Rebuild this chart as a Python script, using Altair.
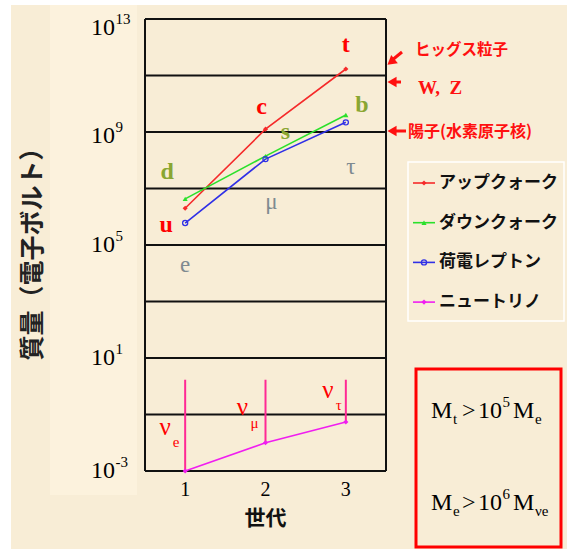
import altair as alt
import pandas as pd

# Masses (eV) of the three generations of fermions
generations = [1, 2, 3]
up_mass = [2.0e6, 1.26e9, 1.7e11]
down_mass = [4.3e6, 1.4e8, 4.0e9]
lepton_mass = [6.0e5, 1.1e8, 2.2e9]
neutrino_mass = [1.0e-3, 1.0e-2, 5.4e-2]
neutrino_upper = [1.7, 1.7, 1.7]

up_labels = ["u", "c", "t"]
down_labels = ["d", "s", "b"]
lepton_labels = ["e", "μ", "τ"]
neutrino_subscripts = ["e", "μ", "τ"]

series_names = ["アップクォーク", "ダウンクォーク", "荷電レプトン", "ニュートリノ"]
series_colors = ["#F52A2A", "#2BE02B", "#3030E6", "#F01EF0"]
series_shapes = ["diamond", "triangle-up", "circle", "diamond"]
series_filled = [True, True, False, True]

grid_masses = [1e-3, 1e-1, 1e1, 1e3, 1e5, 1e7, 1e9, 1e11, 1e13]
tick_masses = [1e-3, 1e1, 1e5, 1e9, 1e13]
tick_exponents = ["-3", "1", "5", "9", "13"]

reference_labels = ["ヒッグス粒子", "W,\u00a0\u00a0Z", "陽子(水素原子核)"]

W, H = 241, 452
SERIF = "Liberation Serif"
CJK = "Noto Sans CJK JP"
BG = "#F8EDD6"
STRIP = "#FCF2DD"
RED = "#FF1010"

xs = alt.Scale(domain=[0.5, 3.5], nice=False, zero=False)
ys = alt.Scale(type="log", domain=[1e-3, 1e13], nice=False)

all_mass = [up_mass, down_mass, lepton_mass, neutrino_mass]
rows = []
for name, masses in zip(series_names, all_mass):
    for g, m in zip(generations, masses):
        rows.append({"series": name, "gen": g, "mass": m})
df = pd.DataFrame(rows)

one = pd.DataFrame({"k": [0]})


def X(field="gen:Q"):
    return alt.X(field, scale=xs, axis=None)


def Y(field="mass:Q"):
    return alt.Y(field, scale=ys, axis=None)


def px_rect(x, x2, y, y2, **kw):
    return alt.Chart(one).mark_rect(**kw).encode(
        x=alt.value(x), x2=alt.value(x2), y=alt.value(y), y2=alt.value(y2))


def px_rule(x, y, x2, y2, **kw):
    return alt.Chart(one).mark_rule(**kw).encode(
        x=alt.value(x), x2=alt.value(x2), y=alt.value(y), y2=alt.value(y2))


def px_text(text, x, y, **kw):
    return alt.Chart(one).mark_text(text=text, **kw).encode(
        x=alt.value(x), y=alt.value(y))


def px_point(x, y, **kw):
    return alt.Chart(one).mark_point(**kw).encode(x=alt.value(x), y=alt.value(y))


layers = []

# page edges and the lighter band behind the y labels
layers.append(px_rect(-145, -134, -19, H + 78, color="white"))
layers.append(px_rect(422, 428, -19, H + 78, color="white"))
layers.append(px_rect(-145, 428, -19, -14, color="white"))
layers.append(px_rect(-95, -8, -14, 476, color=STRIP))

# horizontal grid every two decades and the side borders
grid_df = pd.DataFrame({"mass": grid_masses})
layers.append(alt.Chart(grid_df).mark_rule(color="#111111", strokeWidth=2).encode(
    y=Y(), x=alt.value(0), x2=alt.value(W)))
border_df = pd.DataFrame({"gen": [0.5, 3.5]})
layers.append(alt.Chart(border_df).mark_rule(color="#111111", strokeWidth=2).encode(
    x=X(), y=alt.value(0), y2=alt.value(H)))

# neutrino upper limits
nu_df = pd.DataFrame({"gen": generations, "mass": neutrino_mass, "upper": neutrino_upper})
layers.append(alt.Chart(nu_df).mark_rule(color="#FF2A95", strokeWidth=2).encode(
    x=X(), y=Y(), y2="upper:Q"))

# connecting lines
layers.append(alt.Chart(df).mark_line(strokeWidth=1.6).encode(
    x=X(), y=Y(),
    color=alt.Color("series:N", scale=alt.Scale(domain=series_names, range=series_colors),
                    legend=None),
))

# markers
for name, col, shp, fil in zip(series_names, series_colors, series_shapes, series_filled):
    layers.append(alt.Chart(df[df.series == name]).mark_point(
        shape=shp, filled=fil, color=col, size=26, strokeWidth=1.3, opacity=1).encode(
        x=X(), y=Y()))

# generation tick labels and axis title
gen_df = pd.DataFrame({"gen": generations, "lab": [str(g) for g in generations]})
layers.append(alt.Chart(gen_df).mark_text(baseline="middle", font=SERIF, fontSize=20,
                                          color="black")
              .encode(x=X(), y=alt.value(H + 19), text="lab:N"))
layers.append(px_text("世代", W / 2, H + 48, baseline="middle", font=CJK, fontSize=21,
                      fontWeight="bold", color="#111111"))

# particle names next to the points
label_offsets = {
    "u": (-19, 17), "c": (-4, -22), "t": (0, -24),
    "d": (-18, -27), "s": (20, -24), "b": (16, -10),
    "e": (0, 42), "μ": (6, 43), "τ": (5, 45),
}
groups = [
    (up_labels, up_mass, "#FF0000", "bold", 24),
    (down_labels, down_mass, "#8AA632", "bold", 24),
    (lepton_labels, lepton_mass, "#7F8A90", "normal", 23),
]
for labels, masses, col, wt, fs in groups:
    for lab, g, m in zip(labels, generations, masses):
        dx, dy = label_offsets[lab]
        layers.append(alt.Chart(pd.DataFrame({"gen": [g], "mass": [m], "lab": [lab]}))
                      .mark_text(dx=dx, dy=dy, font=SERIF, fontSize=fs, fontWeight=wt, color=col)
                      .encode(x=X(), y=Y(), text="lab:N"))

nu_offsets = [((-20, -44), (-9, -29)), ((-23, -36), (-11, -20)), ((-18, -32), (-7, -17))]
for g, m, sub, (o1, o2) in zip(generations, neutrino_mass, neutrino_subscripts, nu_offsets):
    d = pd.DataFrame({"gen": [g], "mass": [m], "nu": ["ν"], "sub": [sub]})
    layers.append(alt.Chart(d).mark_text(dx=o1[0], dy=o1[1], font=SERIF, fontSize=25,
                                         color="#FF0000").encode(x=X(), y=Y(), text="nu:N"))
    layers.append(alt.Chart(d).mark_text(dx=o2[0], dy=o2[1], font=SERIF, fontSize=15,
                                         color="#FF0000").encode(x=X(), y=Y(), text="sub:N"))

# y tick labels 10^n
tick_shift = [0, 0, 0, 4, 9]
for m, e, sh in zip(tick_masses, tick_exponents, tick_shift):
    d = pd.DataFrame({"mass": [m], "exp": [e], "ten": ["10"]})
    layers.append(alt.Chart(d).mark_text(align="right", baseline="middle", dy=sh, font=SERIF,
                                         fontSize=24, color="black")
                  .encode(y=Y(), x=alt.value(-30), text="ten:N"))
    layers.append(alt.Chart(d).mark_text(align="left", baseline="middle", dy=sh - 9,
                                         font=SERIF, fontSize=15, color="black")
                  .encode(y=Y(), x=alt.value(-29.5), text="exp:N"))

# y title
layers.append(px_text("質量（電子ボルト）", -112, 229, angle=270, font=CJK, fontSize=25,
                      fontWeight="bold", color="#222222", baseline="middle"))

# reference masses on the right
layers.append(px_text(reference_labels[0], 270, 31, align="left", baseline="middle",
                      font=CJK, fontSize=15.5, fontWeight="bold", color=RED))
layers.append(px_text(reference_labels[1], 273, 69, align="left", baseline="middle",
                      font=SERIF, fontSize=19, fontWeight="bold", color=RED))
layers.append(px_text(reference_labels[2], 263, 113, align="left", baseline="middle",
                      font=CJK, fontSize=16, fontWeight="bold", color=RED))
layers.append(px_rule(257, 33, 246, 42, color=RED, strokeWidth=3))
layers.append(px_point(246, 43, shape="triangle-left", angle=321, filled=True,
                       color=RED, size=110, opacity=1))
layers.append(px_rule(256, 63, 247, 63, color=RED, strokeWidth=3))
layers.append(px_point(247, 63, shape="triangle-left", filled=True, color=RED, size=110,
                       opacity=1))
layers.append(px_rule(261, 112, 247, 112, color=RED, strokeWidth=3))
layers.append(px_point(247, 112, shape="triangle-left", filled=True, color=RED, size=110,
                       opacity=1))

# legend
layers.append(px_rect(263, 419, 143, 302, fillOpacity=0, stroke="white", strokeWidth=1.5))
for i, (name, col, shp, fil) in enumerate(zip(series_names, series_colors, series_shapes,
                                               series_filled)):
    yy = 164 + i * 39.7
    layers.append(px_rule(268, yy, 290, yy, color=col, strokeWidth=1.6))
    layers.append(px_point(279, yy, shape=shp, filled=fil, color=col, size=26,
                           strokeWidth=1.3, opacity=1))
    layers.append(px_text(name, 294, yy, align="left", baseline="middle", font=CJK,
                          fontSize=17, fontWeight="bold", color="#111111"))

# mass ratio box
layers.append(px_rect(271, 416, 350, 528, fillOpacity=0, stroke="#FF0000", strokeWidth=3))
ratio_lines = [
    (399, "t", "5", "e"),
    (491, "e", "6", "νe"),
]
for base_y, s1, sup, s2 in ratio_lines:
    big = dict(align="left", baseline="alphabetic", font=SERIF, fontSize=24, color="black")
    small = dict(align="left", baseline="alphabetic", font=SERIF, fontSize=15, color="black")
    layers.append(px_text("M", 286, base_y, **big))
    layers.append(px_text(s1, 308, base_y + 6, **small))
    layers.append(px_text(">", 317, base_y, **big))
    layers.append(px_text("10", 333, base_y, **big))
    layers.append(px_text(sup, 357.5, base_y - 11, **small))
    layers.append(px_text("M", 368, base_y, **big))
    layers.append(px_text(s2, 390, base_y + 6, **small))

chart = alt.layer(*layers).properties(
    width=W, height=H,
    padding={"left": 145, "top": 19, "right": 187, "bottom": 78},
    autosize=alt.AutoSizeParams(type="none"),
    background=BG,
).configure_view(stroke=None)

chart.save("out.html", embed_options={"renderer": "svg", "actions": False})
